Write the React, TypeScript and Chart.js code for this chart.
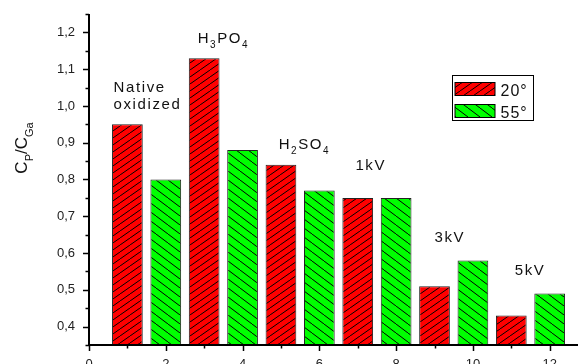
import React, { useEffect, useRef } from 'react';
import { Chart, registerables } from 'chart.js';

Chart.register(...registerables);

// ---- data ----
const SERIES_LABELS = ['20°', '55°'];
const POS_20 = [1, 3, 5, 7, 9, 11];
const VAL_20 = [0.95, 1.13, 0.84, 0.75, 0.51, 0.43];
const POS_55 = [2, 4, 6, 8, 10, 12];
const VAL_55 = [0.8, 0.88, 0.77, 0.75, 0.58, 0.49];
const X_TICKS = [0, 2, 4, 6, 8, 10, 12];
const X_MINOR = [1, 3, 5, 7, 9, 11];
const Y_TICKS = [0.4, 0.5, 0.6, 0.7, 0.8, 0.9, 1.0, 1.1, 1.2];
const Y_MINOR = [0.35, 0.45, 0.55, 0.65, 0.75, 0.85, 0.95, 1.05, 1.15, 1.25];
const X_MIN = 0;
const X_MAX = 12.8;
const Y_MIN = 0.35;
const Y_MAX = 1.25;

// annotation texts: [text, 'n' normal | 's' subscript]
const ANNOTATIONS: { x: number; y: number; parts: [string, string][] }[] = [
  { x: 0.64, y: 1.039, parts: [['Native', 'n']] },
  { x: 0.64, y: 0.992, parts: [['oxidized', 'n']] },
  { x: 2.83, y: 1.17, parts: [['H', 'n'], ['3', 's'], ['PO', 'n'], ['4', 's']] },
  { x: 4.94, y: 0.883, parts: [['H', 'n'], ['2', 's'], ['SO', 'n'], ['4', 's']] },
  { x: 6.94, y: 0.826, parts: [['1kV', 'n']] },
  { x: 9.0, y: 0.629, parts: [['3kV', 'n']] },
  { x: 11.09, y: 0.54, parts: [['5kV', 'n']] },
];
const Y_TITLE: [string, string][] = [['C', 'n'], ['P', 's'], ['/C', 'n'], ['Ga', 's']];

const W = 582;
const H = 380;
const FONT = '"Liberation Sans", Arial, sans-serif';

function hatch(bg: string, w: number, h: number, dir: string) {
  const c = document.createElement('canvas');
  c.width = w;
  c.height = h;
  const g = c.getContext('2d')!;
  g.fillStyle = bg;
  g.fillRect(0, 0, w, h);
  g.strokeStyle = '#000';
  g.lineWidth = 1;
  for (const k of [-1, 0, 1]) {
    g.beginPath();
    if (dir === '/') {
      g.moveTo(k * w, h - k * h);
      g.lineTo(w + k * w, -k * h);
    } else {
      g.moveTo(k * w, k * h);
      g.lineTo(w + k * w, h + k * h);
    }
    g.stroke();
  }
  return g.createPattern(c, 'repeat')!;
}

function drawRich(ctx: CanvasRenderingContext2D, x: number, y: number, parts: [string, string][], size: number, sub: number, spacing: string, measureOnly = false) {
  let cx = x;
  for (const [t, kind] of parts) {
    ctx.font = `${kind === 's' ? sub : size}px ${FONT}`;
    (ctx as any).letterSpacing = spacing;
    const dy = kind === 's' ? Math.round(size * 0.35) : 0;
    if (!measureOnly) ctx.fillText(t, cx, y + dy);
    cx += ctx.measureText(t).width;
  }
  return cx - x;
}

export default function App() {
  const ref = useRef<HTMLCanvasElement>(null);

  useEffect(() => {
    const canvas = ref.current!;
    const redPat = hatch('#ff0000', 10, 7, '/');
    const greenPat = hatch('#00ff00', 12, 9, '\\');

    const overlay = {
      id: 'overlay',
      afterDatasetsDraw(chart: any) {
        const ctx = chart.ctx as CanvasRenderingContext2D;
        const xs = chart.scales.x;
        const ys = chart.scales.y;
        const { left, right, top, bottom } = chart.chartArea;
        ctx.save();
        // axes
        ctx.strokeStyle = '#000';
        ctx.lineWidth = 2;
        ctx.beginPath();
        ctx.moveTo(left, top);
        ctx.lineTo(left, bottom);
        ctx.lineTo(right, bottom);
        ctx.stroke();
        ctx.lineWidth = 1.5;
        ctx.beginPath();
        for (const v of Y_TICKS) {
          const py = Math.round(ys.getPixelForValue(v)) + 0.5;
          ctx.moveTo(left - 6, py);
          ctx.lineTo(left, py);
        }
        for (const v of Y_MINOR) {
          const py = Math.round(ys.getPixelForValue(v)) + 0.5;
          ctx.moveTo(left - 3.5, py);
          ctx.lineTo(left, py);
        }
        for (const v of X_TICKS) {
          const px = Math.round(xs.getPixelForValue(v)) + 0.5;
          ctx.moveTo(px, bottom);
          ctx.lineTo(px, bottom + 6);
        }
        for (const v of X_MINOR) {
          const px = Math.round(xs.getPixelForValue(v)) + 0.5;
          ctx.moveTo(px, bottom);
          ctx.lineTo(px, bottom + 3.5);
        }
        ctx.stroke();

        // annotations
        ctx.fillStyle = '#111';
        ctx.textBaseline = 'alphabetic';
        ctx.textAlign = 'left';
        for (const a of ANNOTATIONS) {
          drawRich(ctx, xs.getPixelForValue(a.x), ys.getPixelForValue(a.y), a.parts, 15, 10, '1.6px');
        }

        // y title
        ctx.save();
        ctx.translate(27, 148);
        ctx.rotate(-Math.PI / 2);
        const tw = drawRich(ctx, 0, 0, Y_TITLE, 17, 11, '0px', true);
        drawRich(ctx, -tw / 2, 0, Y_TITLE, 17, 11, '0px');
        ctx.restore();

        // legend
        const lx = 452.5, ly = 75.5, lw = 81, lh = 45;
        ctx.fillStyle = '#fff';
        ctx.fillRect(lx, ly, lw, lh);
        ctx.strokeStyle = '#000';
        ctx.lineWidth = 1;
        ctx.strokeRect(lx, ly, lw, lh);
        chart.data.datasets.forEach((ds: any, i: number) => {
          const sy = ly + 7 + i * 22;
          ctx.fillStyle = ds.backgroundColor;
          ctx.fillRect(lx + 2.5, sy, 40, 13);
          ctx.strokeStyle = '#000';
          ctx.strokeRect(lx + 2.5, sy, 40, 13);
          ctx.fillStyle = '#111';
          ctx.font = `16px ${FONT}`;
          (ctx as any).letterSpacing = '1px';
          ctx.fillText(ds.label, lx + 48, sy + 13);
        });
        ctx.restore();
      },
    };

    const chart = new Chart(canvas, {
      type: 'bar',
      data: {
        datasets: [
          {
            label: SERIES_LABELS[0],
            data: POS_20.map((x, i) => ({ x, y: VAL_20[i] })),
            backgroundColor: redPat as any,
            borderColor: '#222',
            borderWidth: 1,
          },
          {
            label: SERIES_LABELS[1],
            data: POS_55.map((x, i) => ({ x, y: VAL_55[i] })),
            backgroundColor: greenPat as any,
            borderColor: '#222',
            borderWidth: 1,
          },
        ],
      },
      options: {
        responsive: false,
        animation: false,
        grouped: false,
        barPercentage: 0.8,
        categoryPercentage: 1,
        layout: { padding: { top: 14, right: W - 580.4, left: 0, bottom: 0 } },
        plugins: { legend: { display: false }, tooltip: { enabled: false } },
        scales: {
          x: {
            type: 'linear',
            offset: false,
            min: X_MIN,
            max: X_MAX,
            grid: { display: false, drawTicks: false, offset: false },
            border: { display: false },
            afterBuildTicks: (s: any) => {
              s.ticks = X_TICKS.map((v) => ({ value: v }));
            },
            afterFit: (s: any) => {
              s.height = H - 345;
              s.paddingLeft = 0;
              s.paddingRight = 0;
            },
            ticks: {
              padding: 12,
              maxRotation: 0,
              autoSkip: false,
              color: '#222',
              font: { family: FONT, size: 13 },
              callback: (v: any) => String(v),
            },
          },
          y: {
            type: 'linear',
            min: Y_MIN,
            max: Y_MAX,
            grid: { display: false, drawTicks: false },
            border: { display: false },
            afterBuildTicks: (s: any) => {
              s.ticks = Y_TICKS.map((v) => ({ value: v }));
            },
            afterFit: (s: any) => {
              s.width = 89;
              s.paddingTop = 0;
              s.paddingBottom = 0;
            },
            ticks: {
              padding: 14,
              autoSkip: false,
              color: '#222',
              font: { family: FONT, size: 13 },
              callback: (v: any) => Number(v).toFixed(1).replace('.', ','),
            },
          },
        },
      } as any,
      plugins: [overlay],
    });
    return () => chart.destroy();
  }, []);

  return (
    <div style={{ position: 'fixed', left: 0, top: 0, width: 578, height: 364, overflow: 'hidden', background: '#fff' }}>
      <canvas ref={ref} width={W} height={H} style={{ display: 'block', width: W, height: H }} />
    </div>
  );
}
